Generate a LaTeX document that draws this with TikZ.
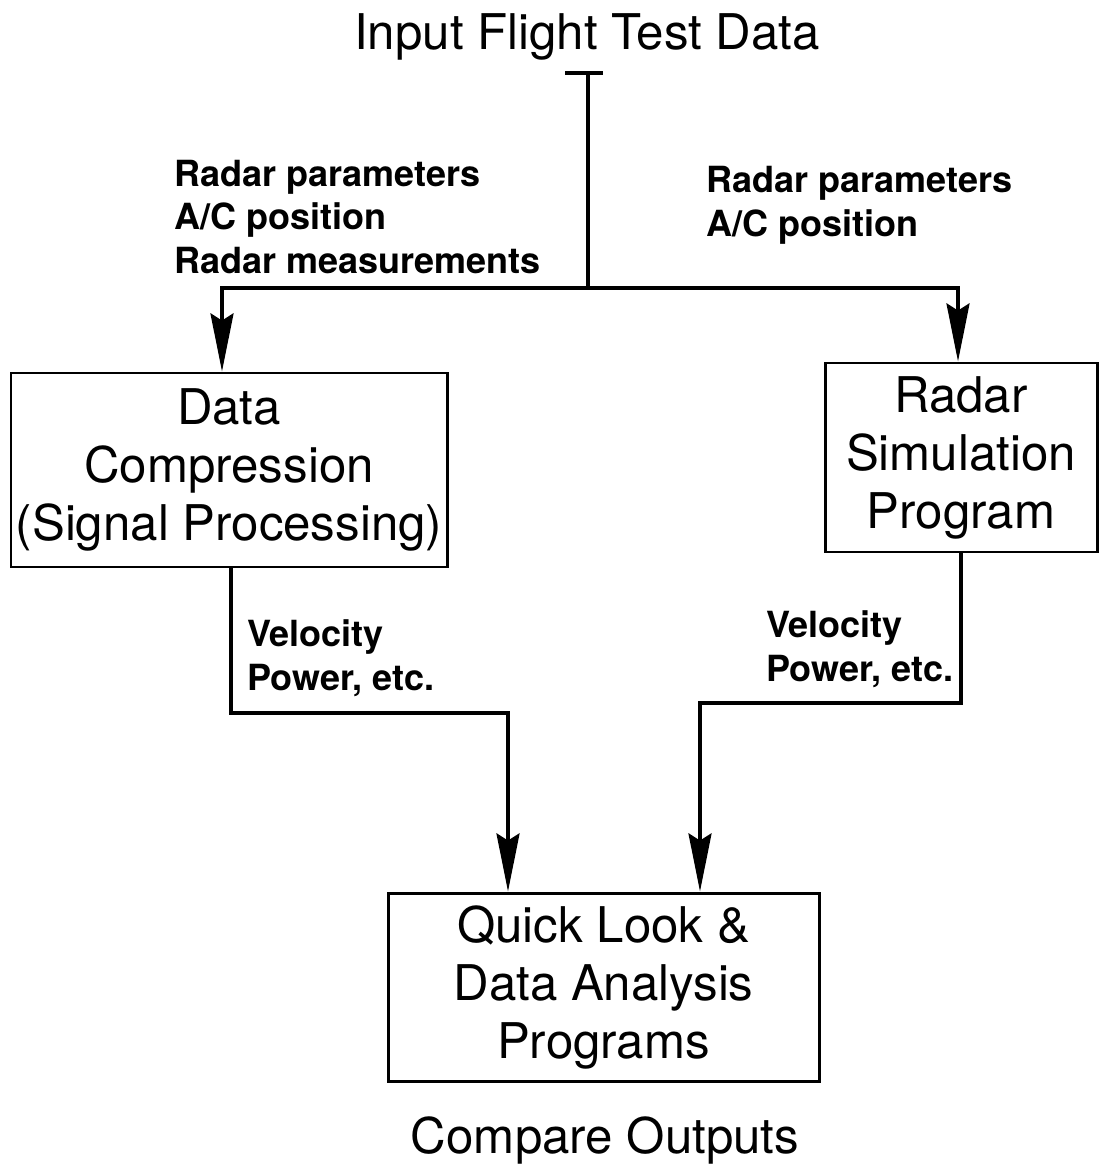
\documentclass[tikz,border=0pt]{standalone}
\usepackage{fontspec}
\setmainfont{TeX Gyre Heros}
\usetikzlibrary{arrows.meta}

\begin{document}
\begin{tikzpicture}[
            > = {Stealth[length=33pt, width=13pt, inset=4pt]},
    block/.style = {draw, line width=1.7pt, align=center, inner sep=0pt,
                    font=\fontsize{28}{33}\selectfont},
     flow/.style = {line width=2.4pt},
    label/.style = {align=left, anchor=west, inner sep=0pt,
                    font=\bfseries\fontsize{20.5}{25}\selectfont},
    title/.style = {font=\fontsize{28}{33}\selectfont}
                        ]
\useasboundingbox (0,0) rectangle (22.02,-23.3);
% boxes
    \node[block, minimum width=8.72cm, minimum height=3.88cm] (dc) at (4.58,-9.40)
        {Data\\Compression\\(Signal Processing)};
    \node[block, minimum width=5.44cm, minimum height=3.78cm] (rs) at (19.22,-9.15)
        {Radar\\Simulation\\Program};
    \node[block, minimum width=8.62cm, minimum height=3.76cm] (ql) at (12.07,-19.74)
        {Quick Look \&\\Data Analysis\\Programs};
% texts
    \node[title] (in)  at (11.74,-0.74) {Input Flight Test Data};
    \node[title] (out) at (12.10,-22.80) {Compare Outputs};
    \node[label] (lin)  at (3.48,-4.34)   {Radar parameters\\A/C position\\Radar measurements};
    \node[label] (rin)  at (14.12,-4.10)  {Radar parameters\\A/C position};
    \node[label] (lout) at (4.94,-13.16)  {Velocity\\Power, etc.};
    \node[label] (rout) at (15.32,-12.98) {Velocity\\Power, etc.};
% input tee and split
\coordinate (tee)   at (11.76,-1.46);
\coordinate (split) at (11.76,-5.76);
    \draw[flow] (11.30,-1.46) -- (12.06,-1.46);
    \draw[flow] (tee) -- (split);
    \draw[flow, ->] (split) -| (dc.north -| 4.44,0);
    \draw[flow, ->] (split) -| (rs.north -| 19.16,0);
% outputs
    \draw[flow, ->] (dc.south -| 4.62,0) |- (10.16,-14.26) -- (ql.north -| 10.16,0);
    \draw[flow, ->] (rs.south -| 19.22,0) |- (14.00,-14.06) -- (ql.north -| 14.00,0);
\end{tikzpicture}
\end{document}
